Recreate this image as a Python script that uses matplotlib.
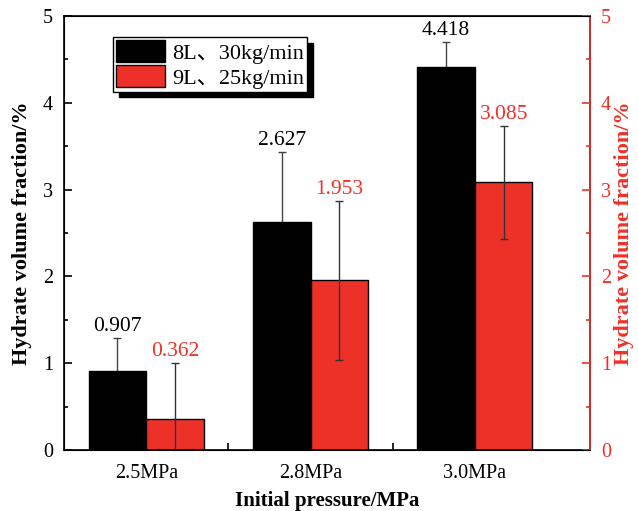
import matplotlib
matplotlib.use("Agg")
import matplotlib.pyplot as plt
import numpy as np
from matplotlib.ticker import MultipleLocator, FixedLocator

categories = ["2.5MPa", "2.8MPa", "3.0MPa"]
series_names = ["8L、30kg/min", "9L、25kg/min"]
vals_8L = [0.907, 2.627, 4.418]
err_8L = [0.38, 0.81, 0.28]
vals_9L = [0.362, 1.953, 3.085]
err_9L = [0.645, 0.92, 0.65]

RED = "#ee3128"
plt.rcParams['font.family'] = ['Liberation Serif', 'Noto Sans CJK SC', 'DejaVu Sans']

fig = plt.figure(figsize=(6.38, 5.11), dpi=100)
ax = fig.add_axes([64/638, 61/511, 526/638, 434/511])
x = np.arange(1, len(categories) + 1)
w = 0.35

ax.bar(x - w/2, vals_8L, w, color="black", edgecolor="black", linewidth=1,
       label=series_names[0], zorder=2)
ax.bar(x + w/2, vals_9L, w, color=RED, edgecolor="black", linewidth=1,
       label=series_names[1], zorder=2)
ax.errorbar(x - w/2, vals_8L, yerr=err_8L, fmt='none', ecolor='#444444',
            elinewidth=1, capsize=3, capthick=1, zorder=1)
ax.errorbar(x + w/2, vals_9L, yerr=err_9L, fmt='none', ecolor='#333333',
            elinewidth=1, capsize=3, capthick=1, zorder=3)

for xi, v, e in zip(x - w/2, vals_8L, err_8L):
    ax.annotate(f"{v:.3f}", (xi, v + e), xytext=(0, 1.5), textcoords='offset points',
                ha='center', va='bottom', fontsize=15.5, color='black')
for xi, v, e in zip(x + w/2, vals_9L, err_9L):
    ax.annotate(f"{v:.3f}", (xi, v + e), xytext=(0, 1.5), textcoords='offset points',
                ha='center', va='bottom', fontsize=15.5, color=RED)

ax.set_xlim(0.5, 3.7)
ax.set_ylim(0, 5)
ax.set_xticks(x)
ax.set_xticklabels(categories, fontsize=14.5)
ax.xaxis.set_minor_locator(FixedLocator([1.5, 2.5]))
ax.tick_params(axis='x', which='major', length=0, pad=10)
ax.tick_params(axis='x', which='minor', direction='in', length=5, width=1.2)
ax.yaxis.set_major_locator(MultipleLocator(1))
ax.yaxis.set_minor_locator(MultipleLocator(0.5))
ax.tick_params(axis='y', which='major', direction='in', length=6, width=1.2,
               labelsize=14.5, pad=8)
ax.tick_params(axis='y', which='minor', direction='in', length=3, width=1.2)
ax.set_xlabel("Initial pressure/MPa", fontsize=15, fontweight='bold', labelpad=6)
ax.set_ylabel("Hydrate volume fraction/%", fontsize=16, fontweight='bold', labelpad=8)
for s in ax.spines.values():
    s.set_linewidth(1.2)

ax2 = ax.twinx()
ax2.set_ylim(0, 5)
ax2.yaxis.set_major_locator(MultipleLocator(1))
ax2.yaxis.set_minor_locator(MultipleLocator(0.5))
ax2.tick_params(axis='y', which='major', direction='in', length=6, width=1.2,
                labelsize=14.5, colors=RED, pad=8)
ax2.tick_params(axis='y', which='minor', direction='in', length=3, width=1.2, colors=RED)
ax2.spines['right'].set_color(RED)
ax2.spines['right'].set_linewidth(1.2)
ax2.set_ylabel("Hydrate volume fraction/%", fontsize=16, fontweight='bold', color=RED, labelpad=2)

leg = ax.legend(loc='upper left', bbox_to_anchor=(113/638, 1 - 37/511),
                bbox_transform=fig.transFigure, fontsize=16, frameon=True,
                fancybox=False, edgecolor='black', framealpha=1,
                shadow={'color': 'black', 'alpha': 1, 'ox': 4, 'oy': -4},
                handlelength=2.2, handleheight=1.15, borderpad=0.15,
                labelspacing=0.05, handletextpad=0.3, borderaxespad=0)
leg.get_frame().set_linewidth(1)

fig.savefig("out.png", dpi=100)
